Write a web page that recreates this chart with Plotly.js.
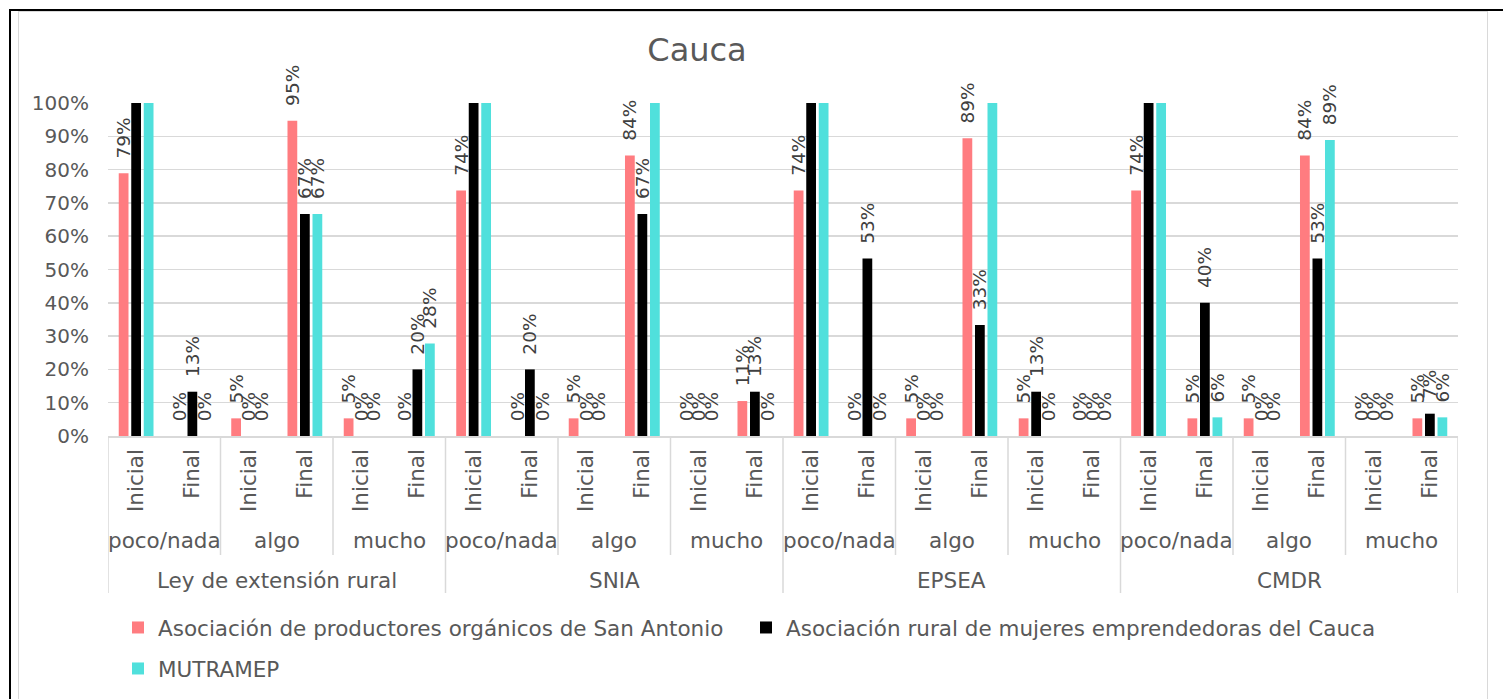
<!DOCTYPE html>
<html><head><meta charset="utf-8">
<script src="https://cdn.plot.ly/plotly-3.0.1.min.js"></script>
<style>
html,body{margin:0;padding:0;background:#fff;overflow:hidden}
#chart{position:absolute;left:0;top:0;width:1503px;height:699px}
#area{position:absolute;left:18px;top:11px;width:1470px;height:720px;border:1.5px solid #D9D9D9;pointer-events:none;box-sizing:border-box}
#frame{position:absolute;left:9px;top:9px;width:1520px;height:720px;border-top:2px solid #000;border-left:2px solid #000;pointer-events:none}
</style></head><body>
<div id="chart"></div><div id="area"></div><div id="frame"></div>
<script>
const chartTitle = 'Cauca';
const programs = ['Ley de extensión rural', 'SNIA', 'EPSEA', 'CMDR'];
const levels = ['poco/nada', 'algo', 'mucho'];
const moments = ['Inicial', 'Final'];
const seriesNames = ['Asociación de productores orgánicos de San Antonio', 'Asociación rural de mujeres emprendedoras del Cauca', 'MUTRAMEP'];
const sanAntonio = [0.789, 0, 0.053, 0.947, 0.053, 0,   0.737, 0, 0.053, 0.842, 0, 0.105,   0.737, 0, 0.053, 0.894, 0.053, 0,   0.737, 0.053, 0.053, 0.842, 0, 0.053];
const mujeres    = [1, 0.133, 0, 0.667, 0, 0.2,          1, 0.2, 0, 0.667, 0, 0.133,          1, 0.533, 0, 0.333, 0.133, 0,       1, 0.4, 0, 0.533, 0, 0.067];
const mutramep   = [1, 0, 0, 0.667, 0, 0.278,            1, 0, 0, 1, 0, 0,                    1, 0, 0, 1, 0, 0,                   1, 0.056, 0, 0.889, 0, 0.056];
const yTickVals = [0, 0.1, 0.2, 0.3, 0.4, 0.5, 0.6, 0.7, 0.8, 0.9, 1];
const colors = ['#FF7C80', '#000000', '#50E0DC'];

const FONT = 'DejaVu Sans';
const GRAY = '#595959';
const LINE = '#D9D9D9';
const NB = '\u00A0\u00A0';

const tickText = programs.flatMap(() => levels.flatMap(() => moments));
const xIdx = tickText.map((_, i) => i);
const label = v => v >= 1 ? '' : NB + Math.round(v * 100) + '%';

const allSeries = [sanAntonio, mujeres, mutramep];
const traces = allSeries.map((vals, k) => ({
  type: 'bar',
  name: seriesNames[k],
  x: xIdx,
  y: vals,
  marker: {color: colors[k]},
  text: vals.map(label),
  textposition: 'outside',
  textangle: -90,
  constraintext: 'none',
  cliponaxis: false,
  textfont: {family: FONT, size: 18.5, color: '#404040'},
  legend: k < 2 ? 'legend' : 'legend2',
  hoverinfo: 'skip'
}));

const nPer = levels.length * moments.length;
const annotations = [];
const shapes = [];
const yLvl = (436 - 540) / 333;
const yProg = (436 - 580) / 333;
const yLvlLine = (436 - 555) / 333;
const yProgLine = (436 - 593) / 333;
programs.forEach((p, pi) => {
  annotations.push({xref: 'x', yref: 'paper', x: pi * nPer + (nPer - 1) / 2, y: yProg, text: p,
    showarrow: false, xanchor: 'center', yanchor: 'middle', font: {family: FONT, size: 21.5, color: GRAY}});
  levels.forEach((l, li) => {
    const c = pi * nPer + li * moments.length;
    annotations.push({xref: 'x', yref: 'paper', x: c + (moments.length - 1) / 2, y: yLvl, text: l,
      showarrow: false, xanchor: 'center', yanchor: 'middle', font: {family: FONT, size: 21.5, color: GRAY}});
    if (li > 0) {
      shapes.push({type: 'line', xref: 'x', yref: 'paper', x0: c - 0.5, x1: c - 0.5, y0: 0, y1: yLvlLine,
        line: {color: LINE, width: 1.5}});
    }
  });
  shapes.push({type: 'line', xref: 'x', yref: 'paper', x0: pi * nPer - 0.5, x1: pi * nPer - 0.5, y0: 0, y1: yProgLine,
    line: {color: LINE, width: 1.5}});
});
shapes.push({type: 'line', xref: 'x', yref: 'paper', x0: xIdx.length - 0.5, x1: xIdx.length - 0.5, y0: 0, y1: yProgLine,
  line: {color: LINE, width: 1.5}});

const layout = {
  width: 1503, height: 699,
  margin: {l: 108, r: 45, t: 103, b: 263},
  paper_bgcolor: 'rgba(0,0,0,0)',
  plot_bgcolor: 'rgba(0,0,0,0)',
  font: {family: FONT, color: GRAY},
  title: {text: chartTitle, xref: 'container', yref: 'container', x: 697 / 1503, y: 1 - 50 / 699,
    xanchor: 'center', yanchor: 'middle', font: {family: FONT, size: 32, color: GRAY}},
  barmode: 'group',
  bargap: 0.333,
  bargroupgap: 0.22,
  xaxis: {
    range: [-0.5, xIdx.length - 0.5], tickvals: xIdx, ticktext: tickText, tickangle: -90,
    ticks: 'outside', ticklen: 3, tickcolor: 'rgba(0,0,0,0)',
    tickfont: {family: FONT, size: 21.5, color: GRAY},
    showline: true, linecolor: LINE, linewidth: 1.5, showgrid: false, zeroline: false,
    automargin: false, fixedrange: true
  },
  yaxis: {
    range: [0, 1], tickvals: yTickVals, tickformat: '.0%',
    ticks: 'outside', ticklen: 14, tickcolor: 'rgba(0,0,0,0)',
    tickfont: {family: FONT, size: 20, color: GRAY},
    showgrid: true, gridcolor: LINE, gridwidth: 1.5, zeroline: false, showline: false,
    automargin: false, fixedrange: true
  },
  showlegend: true,
  legend: {orientation: 'h', xref: 'container', yref: 'container', x: 118 / 1503, y: 1 - 607 / 699,
    xanchor: 'left', yanchor: 'top', bgcolor: 'rgba(0,0,0,0)', itemwidth: 30,
    entrywidth: 583, entrywidthmode: 'pixels',
    font: {family: FONT, size: 21.5, color: GRAY}},
  legend2: {orientation: 'h', xref: 'container', yref: 'container', x: 118 / 1503, y: 1 - 648 / 699,
    xanchor: 'left', yanchor: 'top', bgcolor: 'rgba(0,0,0,0)', itemwidth: 30,
    font: {family: FONT, size: 21.5, color: GRAY}},
  annotations: annotations,
  shapes: shapes,
  hovermode: false
};

Plotly.newPlot('chart', traces, layout, {displayModeBar: false, staticPlot: true});
</script>
</body></html>
